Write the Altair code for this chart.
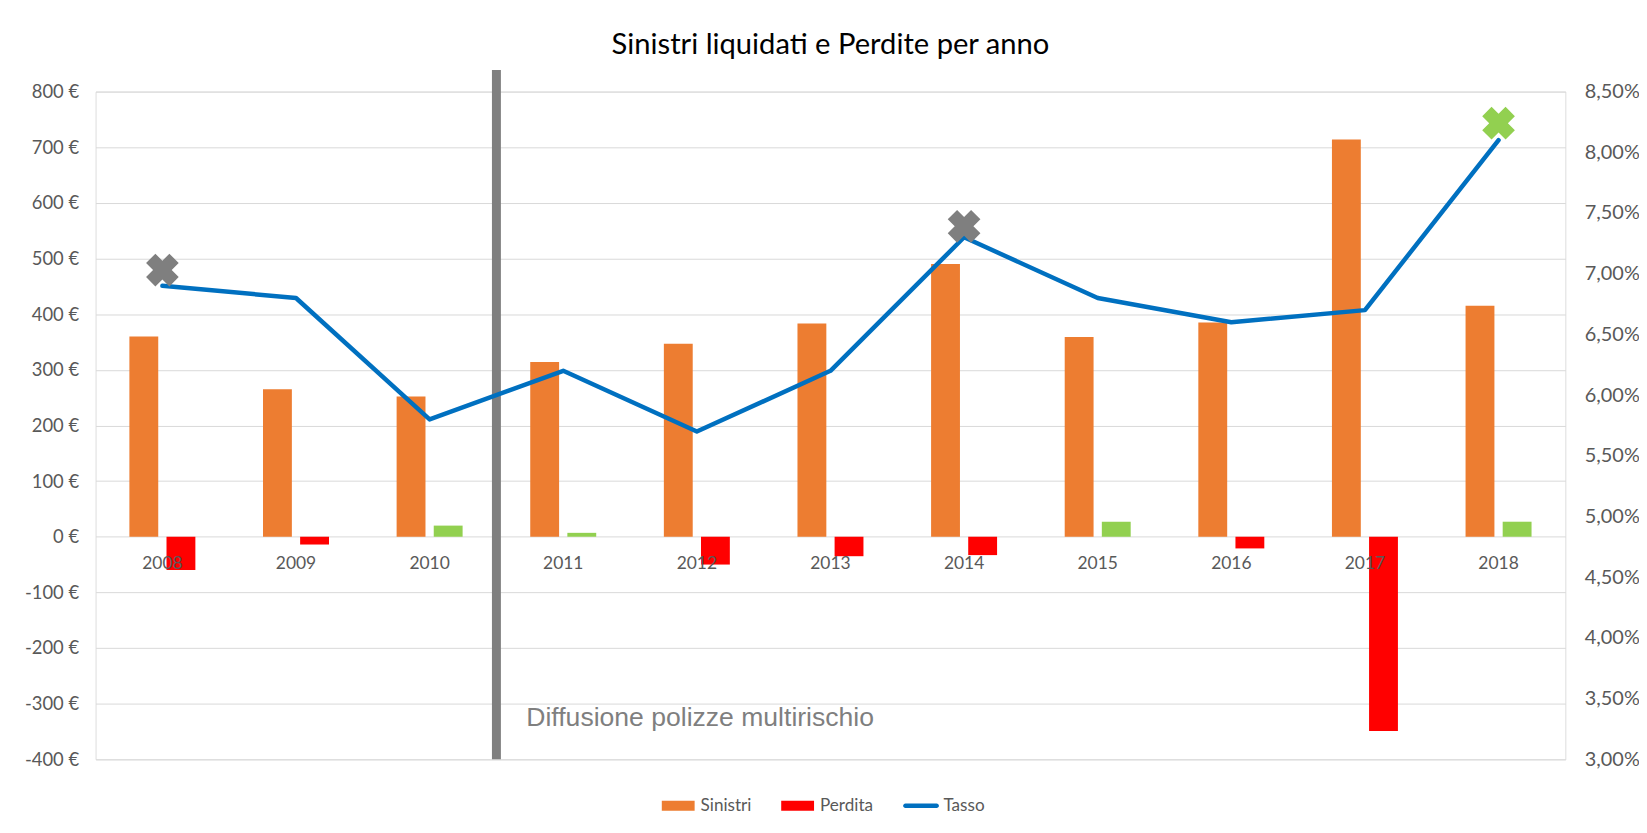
import altair as alt
import pandas as pd

# ---- data ----
years = ["2008", "2009", "2010", "2011", "2012", "2013", "2014", "2015", "2016", "2017", "2018"]
sinistri = [360, 265, 252, 314, 347, 383, 490, 359, 385, 714, 415]
perdita = [-60, -14, 20, 7, -50, -35, -33, 27, -21, -349, 27]
tasso = [6.90, 6.80, 5.80, 6.20, 5.70, 6.20, 7.30, 6.80, 6.60, 6.70, 8.10]

marker_years = ["2008", "2014", "2018"]
marker_values = [7.03, 7.39, 8.24]
marker_colors = ["#7F7F7F", "#7F7F7F", "#92D050"]

series_names = ["Sinistri", "Perdita", "Tasso"]
series_colors = ["#ED7D31", "#FF0000", "#0070C0"]
legend_shapes = [
    "M-1,-0.3 L1,-0.3 L1,0.3 L-1,0.3 Z",
    "M-1,-0.3 L1,-0.3 L1,0.3 L-1,0.3 Z",
    "M-0.95,-0.14 L0.95,-0.14 A0.14,0.14 0 0 1 0.95,0.14 L-0.95,0.14 A0.14,0.14 0 0 1 -0.95,-0.14 Z",
]
positive_loss_color = "#92D050"

divider_year = ["2011"]
divider_bottom = [-400]
divider_top = [839]
annotation_text = ["Diffusione polizze multirischio"]
annotation_value = [-340]

left_ticks = list(range(-400, 801, 100))
right_ticks = [3.0, 3.5, 4.0, 4.5, 5.0, 5.5, 6.0, 6.5, 7.0, 7.5, 8.0, 8.5]

title_text = "Sinistri liquidati e Perdite per anno"

# ---- tables ----
bars_df = pd.DataFrame(
    {"anno": years * 2,
     "serie": ["Sinistri"] * len(years) + ["Perdita"] * len(years),
     "valore": sinistri + perdita}
)
line_df = pd.DataFrame({"anno": years, "tasso": tasso, "serie": ["Tasso"] * len(years)})
marker_df = pd.DataFrame({"anno": marker_years, "tasso": marker_values, "colore": marker_colors})
divider_df = pd.DataFrame({"anno": divider_year, "valore": divider_bottom, "valore2": divider_top})
annot_df = pd.DataFrame({"anno": divider_year, "valore": annotation_value, "testo": annotation_text})
# legend carrier (clipped away, below the axis range)
legend_df = pd.DataFrame({"anno": [years[0]] * 3, "serie": series_names, "valore": [-10000] * 3})

W, H = 1477, 671
FONT = "Lato"
LABEL_COLOR = "#595959"
zero_from_bottom = H * 400 / 1200

x_axis = alt.Axis(title=None, domain=False, ticks=False, grid=False, labelAngle=0,
                  offset=-zero_from_bottom, labelPadding=18, zindex=1,
                  labelFont=FONT, labelFontSize=17.5, labelColor=LABEL_COLOR)
x_scale = alt.Scale(domain=years, paddingInner=0, paddingOuter=0)

color_scale = alt.Scale(domain=series_names, range=series_colors)
legend = alt.Legend(
    title=None, orient="none", direction="horizontal", legendX=569, legendY=701,
    symbolSize=1089, symbolStrokeWidth=0, symbolOpacity=1, labelOffset=6,
    columnPadding=29, padding=0,
    labelFont=FONT, labelFontSize=17.2, labelColor=LABEL_COLOR,
)

y_left = alt.Y("valore:Q",
               scale=alt.Scale(domain=[-400, 800], nice=False, zero=False),
               axis=alt.Axis(title=None, values=left_ticks, labelExpr="datum.value + ' €'",
                             domain=False, ticks=False, labelPadding=17,
                             gridColor="#D9D9D9", gridWidth=1,
                             labelFont=FONT, labelFontSize=18.5, labelColor=LABEL_COLOR))

bars = alt.Chart(bars_df).mark_bar().encode(
    x=alt.X("anno:N", sort=years, scale=x_scale, axis=x_axis),
    xOffset=alt.XOffset("serie:N", sort=["Sinistri", "Perdita"],
                        scale=alt.Scale(domain=["Sinistri", "Perdita"], paddingInner=0.2225, paddingOuter=0.911)),
    y=y_left,
    color=alt.ColorValue(series_colors[1], condition=[
        {"test": "datum.serie === 'Sinistri'", "value": series_colors[0]},
        {"test": "datum.serie === 'Perdita' && datum.valore > 0", "value": positive_loss_color},
    ]),
)

legend_carrier = alt.Chart(legend_df).mark_point(filled=True, clip=True).encode(
    x=alt.X("anno:N", sort=years, scale=x_scale, axis=x_axis),
    y=alt.Y("valore:Q"),
    fill=alt.Fill("serie:N", scale=color_scale, legend=legend),
    shape=alt.Shape("serie:N", scale=alt.Scale(domain=series_names, range=legend_shapes), legend=legend),
)

divider = alt.Chart(divider_df).mark_rule(color="#7F7F7F", strokeWidth=9).encode(
    x=alt.X("anno:N", sort=years, scale=x_scale, axis=x_axis, bandPosition=0),
    y=alt.Y("valore:Q"),
    y2="valore2:Q",
)

annot = alt.Chart(annot_df).mark_text(
    align="left", baseline="alphabetic", dx=30, fontSize=26.7,
    font="Liberation Sans", color="#7F7F7F"
).encode(
    x=alt.X("anno:N", sort=years, scale=x_scale, axis=x_axis, bandPosition=0),
    y=alt.Y("valore:Q"),
    text="testo:N",
)

y_right = alt.Y("tasso:Q",
                scale=alt.Scale(domain=[3, 8.5], nice=False, zero=False),
                axis=alt.Axis(title=None, orient="right", values=right_ticks,
                              labelExpr="replace(format(datum.value, '.2f'), '.', ',') + '%'",
                              domain=False, ticks=False, grid=False, labelPadding=19,
                              labelFont=FONT, labelFontSize=20, labelColor=LABEL_COLOR))

line = alt.Chart(line_df).mark_line(strokeWidth=4.5, strokeCap="round", strokeJoin="round",
                                    color=series_colors[2]).encode(
    x=alt.X("anno:N", sort=years, scale=x_scale, axis=x_axis),
    y=y_right,
)

markers = alt.Chart(marker_df).mark_point(shape="cross", angle=45, filled=True, size=1100, opacity=1).encode(
    x=alt.X("anno:N", sort=years, scale=x_scale, axis=x_axis),
    y=y_right,
    color=alt.Color("colore:N", scale=None),
)

left = alt.layer(bars, divider, annot, legend_carrier)
right = alt.layer(line, markers)

chart = alt.layer(left, right).resolve_scale(y="independent").properties(
    width=W, height=H,
    title=alt.Title(title_text, font=FONT, fontSize=29.3, fontWeight="normal", color="#000000",
                    anchor="middle", baseline="alphabetic", offset=10, dy=28),
    autosize=alt.AutoSizeParams(type="none"),
    padding={"left": 88, "top": 82, "right": 74, "bottom": 60},
).configure_view(stroke=None).configure(background="white")

chart.save("out.html", embed_options={"renderer": "svg", "actions": False})
